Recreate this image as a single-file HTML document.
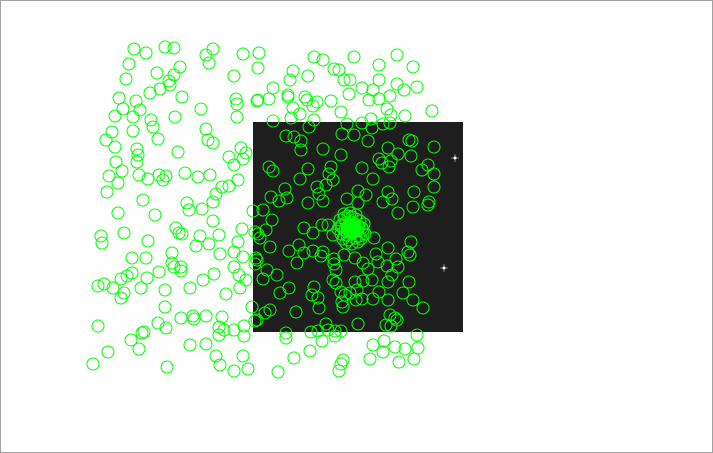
<!DOCTYPE html>
<html><head><meta charset="utf-8"><style>
html,body{margin:0;padding:0;background:#fff}
#wrap{position:relative;width:711px;height:451px;border:1px solid #a0a0a0;overflow:hidden}
</style></head><body>
<div id="wrap">
<svg id="plot" width="711" height="451"></svg>
</div>
<script>
// catalog source positions (image pixel units)
const srcX = [134,146,165,174,129,180,206,209,213,243,259,258,234,157,126,174,169,170,160,150,182,119,136,123,140,115,133,151,175,201,236,237,257,237,112,106,115,133,153,158,206,208,213,137,138,137,116,122,109,118,107,139,148,159,166,163,178,185,198,210,229,234,243,241,246,238,229,222,216,213,187,143,
314,323,354,397,379,413,334,339,293,308,290,344,350,379,273,397,404,417,362,373,349,390,369,379,331,305,288,288,269,258,307,317,313,293,341,387,391,405,432,300,273,291,314,371,347,362,372,383,390,286,294,301,309,342,354,368,409,412,434,301,323,341,388,398,379,382,391,389,411,362,269,273,308,331,329,333,373,422,428,434,300,285,317,326,319,271,279,287,358,366,347,388,392,414,434,429,308,323,383,358,
118,155,189,202,213,253,101,102,124,148,176,179,182,200,196,209,219,242,238,234,243,220,172,132,146,172,174,181,181,159,147,132,127,121,104,98,113,124,121,141,165,190,203,214,234,239,246,240,226,165,181,193,194,206,222,219,224,219,234,244,244,252,255,158,166,98,144,142,131,139,108,93,167,190,206,216,220,234,243,248,258,256,255,
263,272,255,266,260,270,304,313,322,328,333,374,398,413,428,411,408,410,388,289,299,304,313,323,321,297,334,344,355,376,378,396,398,363,368,387,392,388,372,334,336,333,336,355,363,267,263,277,257,289,280,314,409,403,413,423,341,345,342,350,357,356,362,373,379,388,312,318,319,343,296,270,265,257,358,326,335,341,390,395,397,386,391,286,286,311,318,322,328,335,373,384,383,395,405,418,417,414,399,370,310,294,343,341,339,278];
const srcY = [49,53,47,48,64,67,55,63,49,54,53,68,76,73,79,75,81,85,89,93,97,98,101,109,110,116,117,120,117,109,99,104,101,117,132,140,147,131,127,139,129,140,143,149,155,162,162,171,176,183,192,175,179,175,176,180,152,173,177,175,157,165,159,148,153,180,186,187,194,202,203,200,
57,60,57,55,65,67,69,70,71,76,80,80,80,80,88,84,90,87,88,90,94,96,100,99,101,97,95,97,99,100,100,102,106,108,112,109,115,116,111,114,121,118,120,119,124,123,128,124,123,136,137,141,127,134,135,141,140,141,147,150,149,155,148,154,159,163,161,167,156,168,167,171,169,167,174,180,179,170,165,174,179,189,187,185,194,197,201,198,191,195,199,192,199,192,187,202,203,201,202,203,
213,215,210,209,221,211,236,243,233,241,228,233,234,236,246,244,235,229,242,252,257,254,253,258,258,263,267,267,271,272,278,273,276,279,284,286,288,293,298,288,290,288,280,274,267,275,280,288,294,307,318,316,319,316,317,327,330,335,330,326,336,307,321,323,328,326,332,333,340,349,352,364,367,345,344,356,365,371,356,369,234,258,264,
210,220,232,230,238,247,228,233,225,225,235,238,213,207,205,242,252,255,248,251,245,253,251,252,256,263,259,255,258,254,262,259,267,263,269,266,275,282,280,264,270,280,283,282,281,270,279,275,260,288,293,287,282,293,300,308,292,295,302,293,290,300,299,299,292,300,295,298,308,307,312,310,313,320,324,324,331,331,315,318,320,325,326,333,338,332,331,341,330,336,345,341,352,347,349,348,335,359,362,359,351,358,360,364,371,372];
// dense cluster around the central galaxy
const clusterX = [340,344,348,352,356,360,364,342,346,350,354,358,362,338,345,351,357,363,341,347,353,359,365,343,349,355,361,346,352,358,350,344,356,348,354,341,359,347];
const clusterY = [220,218,216,217,219,221,224,225,223,222,224,226,228,229,230,229,231,230,234,235,233,236,234,239,240,238,239,243,244,242,213,214,215,227,226,226,227,232];
// bright stars in the image
const starX = [455,444];
const starY = [158,268];

const NS='http://www.w3.org/2000/svg';
const svg=document.getElementById('plot');
const sx=v=>v-1, sy=v=>v-1; // data -> frame pixel
function mk(t,a){const e=document.createElementNS(NS,t);for(const k in a)e.setAttribute(k,a[k]);svg.appendChild(e);return e;}

const img=mk('rect',{x:sx(253),y:sy(122),width:210,height:210,fill:'#1e1e1e'});


const glow=mk('circle',{cx:sx(350),cy:sy(228),r:22,fill:'#2c2c2c'});


for(let i=0;i<starX.length;i++){
  const g=mk('g',{});
  
  
  const x=sx(starX[i]),y=sy(starY[i]);
  const l1=document.createElementNS(NS,'line');l1.setAttribute('x1',x-4);l1.setAttribute('x2',x+4);l1.setAttribute('y1',y);l1.setAttribute('y2',y);l1.setAttribute('stroke','#999');l1.setAttribute('stroke-width','0.8');g.appendChild(l1);
  const l2=document.createElementNS(NS,'line');l2.setAttribute('x1',x);l2.setAttribute('x2',x);l2.setAttribute('y1',y-4);l2.setAttribute('y2',y+4);l2.setAttribute('stroke','#999');l2.setAttribute('stroke-width','0.8');g.appendChild(l2);
  const d=document.createElementNS(NS,'circle');d.setAttribute('cx',x);d.setAttribute('cy',y);d.setAttribute('r','1.5');d.setAttribute('fill','#fff');g.appendChild(d);
}
function ring(x,y,name){
  const c=mk('circle',{cx:sx(x),cy:sy(y),r:6,fill:'none',stroke:'#00ff00','stroke-width':1});
  
  
}
for(let i=0;i<srcX.length;i++) ring(srcX[i],srcY[i],'source-marker');
for(let i=0;i<clusterX.length;i++) ring(clusterX[i],clusterY[i],'cluster-source-marker');
const blob=mk('circle',{cx:sx(351),cy:sy(228),r:10,fill:'#00ff00'});


</script>
</body></html>
